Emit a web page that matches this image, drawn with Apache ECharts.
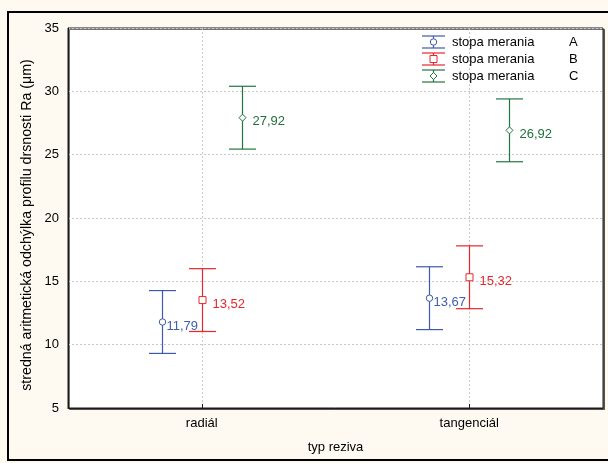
<!DOCTYPE html>
<html>
<head>
<meta charset="utf-8">
<script src="https://cdn.jsdelivr.net/npm/echarts@6/dist/echarts.min.js"></script>
<style>
html,body{margin:0;padding:0;background:#fefaf1;}
#chart{width:608px;height:463px;}
</style>
</head>
<body>
<div id="chart"></div>
<script>
// ---- data ----
const categories = ['radiál', 'tangenciál'];
const seriesNames = ['stopa merania', 'stopa merania', 'stopa merania'];
const seriesLetters = ['A', 'B', 'C'];
const meanA = [11.79, 13.67];
const lowA  = [9.31, 11.19];
const highA = [14.27, 16.15];
const meanB = [13.52, 15.32];
const lowB  = [11.04, 12.84];
const highB = [16.00, 17.80];
const meanC = [27.92, 26.92];
const lowC  = [25.44, 24.44];
const highC = [30.40, 29.40];
const yTicks = [5, 10, 15, 20, 25, 30, 35];

// ---- styles ----
const colors = ['#3d5aa8', '#e8262c', '#22753f'];
const labelColors = ['#3f5fae', '#e8262c', '#22703c'];
const markerShapes = ['circle', 'square', 'diamond'];
const offsets = [-0.15, 0, 0.15];
const labelGaps = [4, 10, 10];
const FONT = '"Liberation Sans", Arial, sans-serif';

const means = [meanA, meanB, meanC];
const lows = [lowA, lowB, lowC];
const highs = [highA, highB, highC];

function fmt(v) { return v.toFixed(2).replace('.', ','); }

function markerShape(kind, x, y, color) {
  const style = { fill: '#fff', stroke: color, lineWidth: 1 };
  if (kind === 'circle') return { type: 'circle', shape: { cx: x, cy: y, r: 3.2 }, style };
  if (kind === 'square') return { type: 'rect', shape: { x: x - 3.5, y: y - 3.5, width: 7, height: 7 }, style };
  return { type: 'polygon', shape: { points: [[x, y - 3.5], [x + 3.5, y], [x, y + 3.5], [x - 3.5, y]] }, style };
}

function makeSeries(k) {
  return {
    type: 'custom',
    name: seriesNames[k] + ' ' + seriesLetters[k],
    data: categories.map((c, i) => [i, means[k][i], lows[k][i], highs[k][i]]),
    encode: { x: 0, y: [1, 2, 3] },
    z: 10,
    renderItem: function (params, api) {
      const xi = api.value(0);
      const band = api.size([1, 0])[0];
      const off = offsets[k] * band;
      const pm = api.coord([xi, api.value(1)]);
      const pl = api.coord([xi, api.value(2)]);
      const pu = api.coord([xi, api.value(3)]);
      const x = Math.round(pm[0] + off) + 0.5;
      const cap = 13.5;
      const ls = { stroke: colors[k], lineWidth: 1.2 };
      return {
        type: 'group',
        children: [
          { type: 'line', shape: { x1: x, y1: pu[1], x2: x, y2: pl[1] }, style: ls },
          { type: 'line', shape: { x1: x - cap, y1: pu[1], x2: x + cap, y2: pu[1] }, style: ls },
          { type: 'line', shape: { x1: x - cap, y1: pl[1], x2: x + cap, y2: pl[1] }, style: ls },
          markerShape(markerShapes[k], x, pm[1], colors[k]),
          {
            type: 'text',
            style: {
              x: x + labelGaps[k], y: pm[1] + 4,
              text: fmt(api.value(1)),
              fill: labelColors[k], font: '13px ' + FONT,
              textAlign: 'left', textVerticalAlign: 'middle'
            }
          }
        ]
      };
    }
  };
}

// legend drawn as graphic
const legendItems = [];
seriesLetters.forEach((letter, k) => {
  const y = 42 + k * 17;
  const x = 433.5;
  const ls = { stroke: colors[k], lineWidth: 1.2 };
  legendItems.push(
    { type: 'line', shape: { x1: x - 11.5, y1: y - 6, x2: x + 11.5, y2: y - 6 }, style: ls, z: 20 },
    { type: 'line', shape: { x1: x - 11.5, y1: y + 6, x2: x + 11.5, y2: y + 6 }, style: ls, z: 20 },
    { type: 'line', shape: { x1: x, y1: y - 6, x2: x, y2: y + 6 }, style: ls, z: 20 },
    Object.assign(markerShape(markerShapes[k], x, y, colors[k]), { z: 21 }),
    { type: 'text', z: 20, style: { x: 452, y: y, text: seriesNames[k], fill: '#000', font: '13px ' + FONT, textVerticalAlign: 'middle' } },
    { type: 'text', z: 20, style: { x: 569, y: y, text: letter, fill: '#000', font: '13px ' + FONT, textVerticalAlign: 'middle' } }
  );
});

const chart = echarts.init(document.getElementById('chart'), null, { renderer: 'canvas' });
chart.setOption({
  backgroundColor: '#fefaf1',
  animation: false,
  textStyle: { fontFamily: FONT },
  grid: {
    left: 68, top: 28, right: 5, bottom: 55,
    show: true, backgroundColor: '#ffffff', borderColor: '#1a1a1a', borderWidth: 1,
    shadowColor: 'rgba(0,0,0,0.55)', shadowOffsetX: 1.5, shadowOffsetY: 1.5, shadowBlur: 0
  },
  xAxis: {
    type: 'category',
    data: categories,
    name: 'typ reziva',
    nameLocation: 'middle',
    nameGap: 33,
    nameTextStyle: { fontSize: 13, color: '#000', fontFamily: FONT },
    axisLine: { show: true, lineStyle: { color: '#1a1a1a', width: 1 } },
    axisTick: { show: true, alignWithLabel: true, inside: true, length: 4, lineStyle: { color: '#1a1a1a' } },
    axisLabel: { fontSize: 13, color: '#000', margin: 9, fontFamily: FONT },
    splitLine: { show: true, alignWithLabel: true, lineStyle: { color: '#c8c8c8', type: [2, 2], width: 1 } }
  },
  yAxis: {
    type: 'value',
    min: yTicks[0], max: yTicks[yTicks.length - 1], interval: 5,
    name: 'stredná aritmetická odchýlka profilu drsnosti Ra (μm)',
    nameLocation: 'middle',
    nameGap: 30,
    nameTextStyle: { fontSize: 14.2, color: '#000', fontFamily: FONT, padding: [0, 14, 0, 0] },
    axisLine: { show: true, lineStyle: { color: '#1a1a1a', width: 1 } },
    axisTick: { show: false },
    axisLabel: { fontSize: 13, color: '#000', margin: 9, fontFamily: FONT },
    splitLine: { show: true, lineStyle: { color: '#c8c8c8', type: [2, 2], width: 1 } }
  },
  graphic: [
    { type: 'rect', z: 100, silent: true, shape: { x: 8, y: 12, width: 640, height: 448 }, style: { fill: 'none', stroke: '#000', lineWidth: 2 } }
  ].concat(legendItems),
  series: [makeSeries(0), makeSeries(1), makeSeries(2)]
});
</script>
</body>
</html>
